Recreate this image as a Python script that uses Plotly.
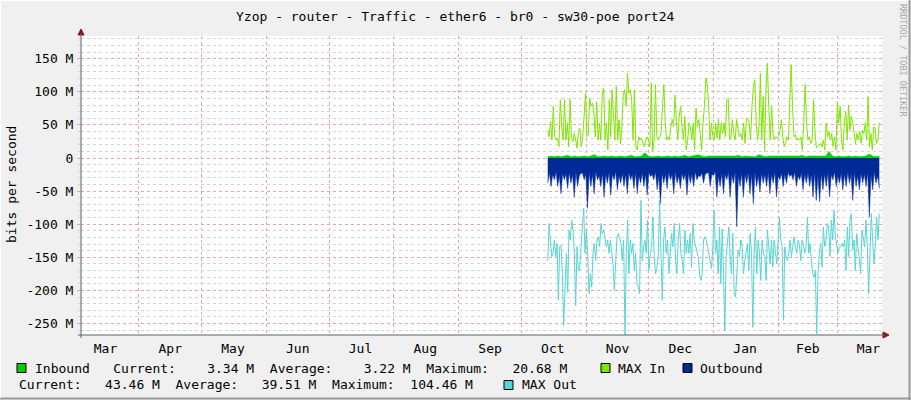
import pandas as pd
import plotly.graph_objects as go

# ---------------- data (values in Mbit/s) ----------------
title_text = "Yzop - router - Traffic - ether6 - br0 - sw30-poe port24"
data_start = "2024-10-13 14:00"
data_end = "2025-03-21 05:00"
axis_start = "2024-03-04 07:00"
axis_end = "2025-03-22 12:00"

max_in = [42, 32, 55, 27, 78, 32, 27, 30, 17, 88, 47, 27, 89, 27, 53, 17, 89, 32, 25, 37,
          27, 15, 42, 45, 17, 32, 63, 98, 32, 35, 90, 78, 83, 68, 32, 85, 27, 53, 27, 98,
          106, 27, 53, 12, 88, 32, 103, 53, 27, 108, 27, 58, 22, 47, 95, 103, 78, 128, 98, 103,
          88, 27, 103, 17, 12, 32, 27, 30, 22, 17, 27, 32, 27, 17, 113, 10, 27, 111, 32, 27,
          32, 37, 78, 111, 53, 27, 32, 27, 47, 58, 47, 95, 53, 27, 63, 78, 47, 27, 63, 12,
          27, 53, 47, 27, 53, 12, 75, 47, 58, 27, 12, 53, 78, 121, 113, 78, 27, 53, 32, 27,
          53, 30, 58, 27, 53, 37, 53, 32, 88, 90, 27, 32, 58, 37, 27, 58, 42, 32, 37, 27,
          53, 22, 60, 58, 53, 27, 78, 108, 118, 53, 27, 47, 128, 27, 93, 10, 103, 143, 78, 27,
          78, 37, 27, 32, 30, 32, 42, 58, 32, 17, 22, 32, 27, 103, 141, 78, 32, 35, 27, 30,
          27, 32, 12, 53, 111, 53, 27, 32, 22, 27, 88, 42, 15, 17, 20, 22, 17, 27, 12, 53,
          32, 40, 27, 37, 17, 32, 12, 85, 53, 78, 27, 12, 53, 70, 27, 80, 42, 63, 53, 32,
          22, 37, 27, 40, 22, 42, 37, 53, 27, 93, 17, 37, 12, 47, 45, 22, 27, 53]

max_out = [-155, -99, -124, -149, -144, -124, -149, -129, -215, -134, -132, -175, -253, -205, -144, -203, -109, -124, -94, -109,
           -144, -223, -134, -170, -170, -134, -99, -76, -144, -109, -144, -205, -175, -195, -144, -129, -155, -124, -119, -134,
           -99, -114, -109, -124, -134, -124, -144, -124, -144, -160, -200, -144, -119, -114, -124, -129, -155, -124, -268, -144,
           -94, -175, -124, -144, -129, -170, -144, -190, -195, -205, -64, -155, -134, -124, -144, -94, -170, -144, -134, -89,
           -149, -175, -165, -149, -64, -144, -215, -124, -104, -144, -124, -175, -144, -114, -134, -99, -155, -175, -124, -99,
           -144, -155, -175, -109, -144, -124, -144, -114, -165, -99, -124, -134, -144, -149, -175, -185, -175, -124, -119, -124,
           -134, -144, -155, -167, -134, -79, -144, -124, -175, -104, -190, -107, -175, -261, -149, -129, -104, -149, -175, -114,
           -205, -210, -165, -139, -149, -124, -134, -175, -155, -144, -129, -170, -114, -144, -256, -144, -104, -175, -124, -144,
           -185, -124, -144, -149, -185, -109, -144, -160, -124, -165, -124, -144, -160, -124, -89, -124, -134, -245, -134, -149,
           -155, -144, -124, -149, -129, -119, -134, -144, -124, -129, -155, -124, -129, -144, -134, -89, -144, -129, -155, -175,
           -180, -170, -266, -170, -144, -129, -165, -104, -134, -124, -99, -104, -149, -94, -124, -79, -119, -134, -144, -134,
           -134, -129, -134, -124, -170, -104, -149, -94, -84, -139, -124, -170, -114, -134, -155, -175, -109, -119, -134, -94,
           -134, -205, -124, -84, -124, -160, -134, -89, -124, -84]

outbound = [-38, -22, -43, -25, -33, -21, -43, -27, -54, -23, -33, -24, -46, -22, -38, -25, -59, -21, -43, -27,
            -23, -23, -33, -24, -76, -22, -43, -25, -54, -21, -33, -27, -43, -23, -59, -24, -38, -22, -56, -25,
            -33, -21, -48, -27, -38, -23, -43, -24, -54, -22, -33, -25, -46, -21, -54, -27, -38, -23, -43, -24,
            -56, -22, -28, -25, -33, -21, -48, -27, -69, -23, -38, -24, -46, -22, -33, -25, -54, -21, -38, -27,
            -46, -23, -33, -24, -56, -22, -38, -25, -43, -21, -33, -27, -28, -23, -38, -24, -23, -22, -43, -25,
            -26, -21, -59, -27, -43, -23, -54, -24, -33, -22, -59, -25, -38, -21, -104, -27, -43, -23, -59, -24,
            -38, -22, -54, -25, -69, -21, -43, -27, -51, -23, -38, -24, -43, -22, -54, -25, -38, -21, -59, -27,
            -33, -23, -43, -24, -38, -22, -28, -25, -33, -21, -43, -27, -33, -23, -48, -24, -38, -22, -43, -25,
            -59, -21, -64, -27, -66, -23, -48, -24, -43, -22, -59, -25, -33, -21, -43, -27, -38, -23, -48, -24,
            -43, -22, -38, -25, -64, -21, -43, -27, -48, -23, -38, -24, -43, -22, -89, -25, -48, -21, -38, -27, -46]

inbound = [2, 3, 2, 3, 2, 3, 4, 2, 3, 2, 3, 3, 2, 3, 5, 2, 3, 3, 2, 3,
           2, 3, 3, 2, 3, 4, 2, 3, 3, 8, 3, 2, 3, 3, 2, 3, 3, 2, 3, 2,
           3, 4, 2, 3, 3, 5, 3, 2, 3, 3, 2, 3, 2, 3, 3, 2, 3, 4, 2, 3,
           3, 3, 2, 5, 3, 2, 3, 3, 2, 3, 3, 2, 3, 3, 2, 3, 4, 2, 3, 3,
           2, 3, 2, 3, 10, 3, 2, 3, 2, 3, 3, 2, 3, 2, 3, 3, 6, 3, 2, 3]

y_tick_vals = [150, 100, 50, 0, -50, -100, -150, -200, -250]
y_tick_text = ["150 M", "100 M", "50 M", "0", "-50 M", "-100 M", "-150 M", "-200 M", "-250 M"]
month_labels = ["Mar", "Apr", "May", "Jun", "Jul", "Aug", "Sep", "Oct", "Nov", "Dec", "Jan", "Feb", "Mar"]
month_label_dates = ["2024-03-16", "2024-04-16", "2024-05-16", "2024-06-16", "2024-07-16", "2024-08-16",
                     "2024-09-16", "2024-10-16", "2024-11-16", "2024-12-16", "2025-01-16", "2025-02-15",
                     "2025-03-16"]
month_starts = ["2024-04-01", "2024-05-01", "2024-06-01", "2024-07-01", "2024-08-01", "2024-09-01",
                "2024-10-01", "2024-11-01", "2024-12-01", "2025-01-01", "2025-02-01", "2025-03-01"]

legend_row1 = "Inbound   Current:    3.34 M  Average:    3.22 M  Maximum:   20.68 M"
legend_row2 = "Current:   43.46 M  Average:   39.51 M  Maximum:  104.46 M"

C_IN = "#00CF00"
C_MAXIN = "#7EE600"
C_OUT = "#002A97"
C_MAXOUT = "#55D6D3"

# ---------------- layout geometry ----------------
FW, FH = 911, 400
L, R, T, B = 81, 882, 36, 335
PW, PH = R - L, B - T
FONT = "DejaVu Sans Mono"


def px(x):
    return (x - L) / PW


def py(y):
    return (B - y) / PH


def times(vals):
    return pd.date_range(data_start, data_end, periods=len(vals))


fig = go.Figure()
fig.add_trace(go.Scatter(x=times(inbound), y=inbound, mode="lines", fill="tozeroy",
                         line=dict(color=C_IN, width=0.5), fillcolor=C_IN, hoverinfo="skip"))
fig.add_trace(go.Scatter(x=times(max_in), y=max_in, mode="lines",
                         line=dict(color=C_MAXIN, width=1), hoverinfo="skip"))
fig.add_trace(go.Scatter(x=times(outbound), y=outbound, mode="lines", fill="tozeroy",
                         line=dict(color=C_OUT, width=0.5), fillcolor=C_OUT, hoverinfo="skip"))
fig.add_trace(go.Scatter(x=times(max_out), y=max_out, mode="lines",
                         line=dict(color=C_MAXOUT, width=1), hoverinfo="skip"))

nb = lambda s: s.replace(" ", "\u00a0")

annotations = []
annotations.append(dict(text=nb(title_text), x=px(455), y=py(16), xref="paper", yref="paper",
                        xanchor="center", yanchor="middle", showarrow=False,
                        font=dict(family=FONT, size=13, color="#000000")))
annotations.append(dict(text=nb("bits per second"), x=px(11), y=py(185), xref="paper", yref="paper",
                        xanchor="center", yanchor="middle", showarrow=False, textangle=-90,
                        font=dict(family=FONT, size=13, color="#000000")))
annotations.append(dict(text=nb("RRDTOOL / TOBI OETIKER"), x=px(903), y=py(60), xref="paper", yref="paper",
                        xanchor="center", yanchor="middle", showarrow=False, textangle=90,
                        font=dict(family=FONT, size=8.5, color="#A8A8A8")))


def legend_text(txt, x, y):
    annotations.append(dict(text=nb(txt), x=px(x), y=py(y), xref="paper", yref="paper",
                            xanchor="left", yanchor="middle", showarrow=False,
                            font=dict(family=FONT, size=13, color="#000000")))


legend_text(legend_row1, 33, 368)
legend_text("MAX In", 616, 368)
legend_text("Outbound", 698, 368)
legend_text(legend_row2, 17, 385)
legend_text("MAX Out", 520, 385)

shapes = []


def box(x, y, color):
    shapes.append(dict(type="rect", xref="paper", yref="paper",
                       x0=px(x), x1=px(x + 9), y0=py(y + 4.5), y1=py(y - 4.5),
                       fillcolor=color, line=dict(color="#000000", width=1)))


box(17, 368, C_IN)
box(601, 368, C_MAXIN)
box(683, 368, C_OUT)
box(504, 385, C_MAXOUT)

# axis arrows
ARROW = "#8B1010"
shapes.append(dict(type="path", xref="paper", yref="paper",
                   path=f"M {px(78)} {py(35)} L {px(84)} {py(35)} L {px(81)} {py(29)} Z",
                   fillcolor=ARROW, line=dict(color=ARROW, width=1)))
shapes.append(dict(type="path", xref="paper", yref="paper",
                   path=f"M {px(883)} {py(332)} L {px(883)} {py(338)} L {px(889)} {py(335)} Z",
                   fillcolor=ARROW, line=dict(color=ARROW, width=1)))
# axis lines
shapes.append(dict(type="line", xref="paper", yref="paper", x0=px(81), x1=px(81), y0=py(338), y1=py(33),
                   line=dict(color="#606060", width=1)))
shapes.append(dict(type="line", xref="paper", yref="paper", x0=px(78), x1=px(885), y0=py(335), y1=py(335),
                   line=dict(color="#606060", width=1)))
# 3D frame
shapes.append(dict(type="line", xref="paper", yref="paper", x0=px(909.5), x1=px(909.5), y0=py(0), y1=py(400),
                   line=dict(color="#9A9A9A", width=2)))
shapes.append(dict(type="line", xref="paper", yref="paper", x0=px(0), x1=px(911), y0=py(398.5), y1=py(398.5),
                   line=dict(color="#9A9A9A", width=2)))
shapes.append(dict(type="line", xref="paper", yref="paper", x0=px(0.5), x1=px(0.5), y0=py(0), y1=py(398),
                   line=dict(color="#FFFFFF", width=1)))
shapes.append(dict(type="line", xref="paper", yref="paper", x0=px(0), x1=px(909), y0=py(0.5), y1=py(0.5),
                   line=dict(color="#FFFFFF", width=1)))

MAJOR = "#EBA3A3"
MINOR = "#D4D4D4"

fig.update_layout(
    width=FW, height=FH,
    margin=dict(l=L, r=FW - R, t=T, b=FH - B, pad=0),
    paper_bgcolor="#F0F0F0", plot_bgcolor="#FFFFFF",
    showlegend=False,
    annotations=annotations, shapes=shapes,
    font=dict(family=FONT, size=13, color="#000000"),
    xaxis=dict(type="date", range=[axis_start, axis_end], tickmode="array",
               tickvals=month_label_dates, ticktext=month_labels, showgrid=False,
               ticks="", showline=False, zeroline=False, ticklabelstandoff=4,
               tickfont=dict(family=FONT, size=13, color="#000000"),
               minor=dict(tickmode="array", tickvals=month_starts, showgrid=True,
                          gridcolor=MAJOR, griddash="dot", gridwidth=1, ticks="")),
    yaxis=dict(range=[-267.4, 184.3], tickmode="array", tickvals=y_tick_vals, ticktext=y_tick_text,
               showgrid=True, gridcolor=MAJOR, griddash="dot", gridwidth=1,
               zeroline=False, showline=False, ticks="outside", ticklen=3, tickcolor=MAJOR,
               ticklabelstandoff=1,
               tickfont=dict(family=FONT, size=13, color="#000000"),
               minor=dict(dtick=10, tick0=0, showgrid=True, gridcolor=MINOR, griddash="dot",
                          gridwidth=1, ticks="outside", ticklen=2, tickcolor=MINOR)),
)

fig.write_html("out.html", config={"displayModeBar": False, "staticPlot": True},
               post_script="document.body.style.margin='0px';document.body.style.overflow='hidden';")
